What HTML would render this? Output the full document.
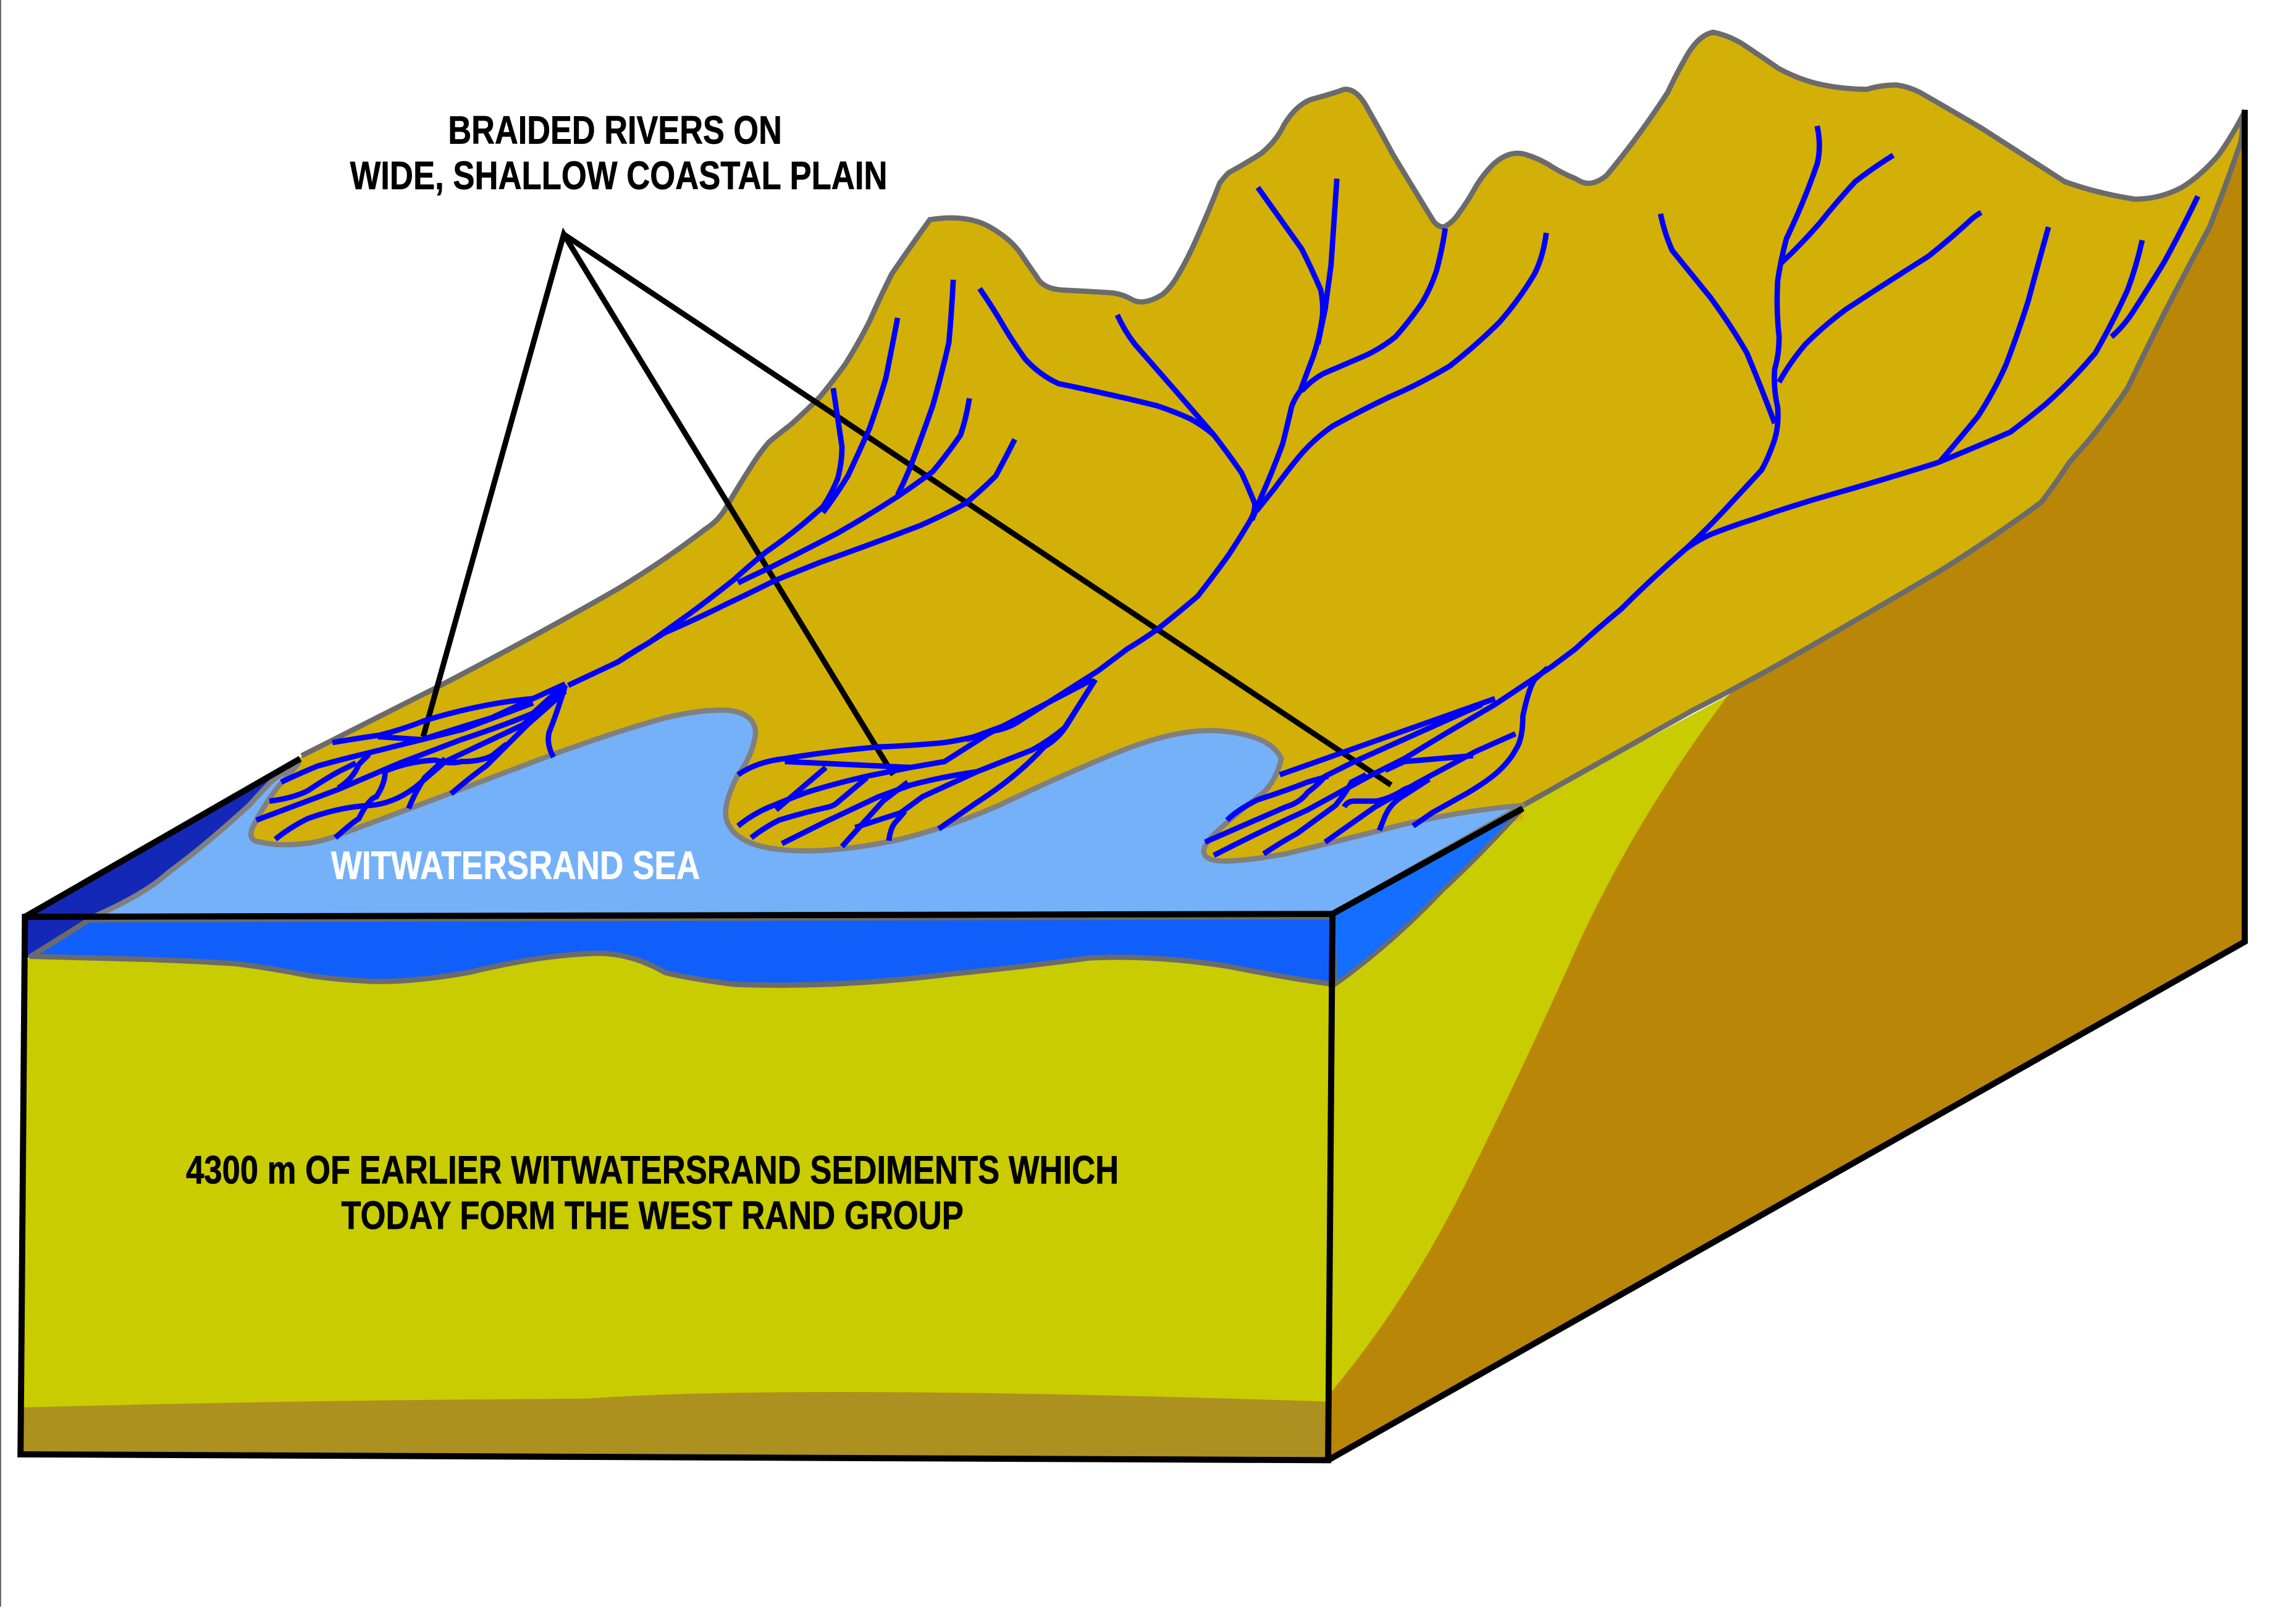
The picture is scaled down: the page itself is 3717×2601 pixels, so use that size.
<!DOCTYPE html>
<html><head><meta charset="utf-8"><title>Witwatersrand braided rivers</title>
<style>html,body{margin:0;padding:0;background:#fff}svg{display:block}text{font-family:"Liberation Sans",sans-serif;font-weight:bold;font-size:27px;stroke-width:.3}</style>
</head><body>
<svg width="3717" height="2601" viewBox="0 0 1568 1097.25" xmlns="http://www.w3.org/2000/svg">
<rect width="1568" height="1097.25" fill="#fff"/>
<path d="M.3,0V1097" stroke="#555" stroke-width=".8" fill="none"/>
<path d="M17,626L205,518L190,560L110,626L63,630L21,653L17,655Z" fill="#1428B8"/>
<path d="M905,600L1040,550L1180,475L1190,600L1100,800L908,960Z" fill="#C9CC00"/>
<path d="M1533,85L1533,643L907,997L907,953Q960,890 1000,810Q1040,730 1080,640Q1120,555 1180,475L1400,300L1500,150Z" fill="#BA8608"/>
<path d="M206,516L297,470Q370,432 422,402Q455,382 482,361Q490,356 495,348Q503,334 512,320Q518,310 525,302Q532,296 540,290Q550,281 560,271Q569,260 577,249Q586,235 594,219Q601,203 609,187Q622,168 635,150Q660,146 676,155Q690,163 697,173Q703,182 708,189Q712,197 725,198Q745,199 760,200Q767,201 773,204.5Q781,209 794,201Q800,196 805,187Q812,175 818,161Q826,143 833,125Q836,121 839,118Q850,112 861,105Q872,96 877,85Q885,72 895,68Q910,64 918,61Q927,60 935,76Q943,90 951,105Q960,120 968,133Q974,143 979,151Q982,155 986,155Q992,152 996,146Q1002,138 1007,129Q1012,120 1020,112Q1030,103 1040,105Q1048,107 1057,112Q1066,118 1076,122Q1082,126 1087,125Q1092,124 1097,120Q1107,108 1116,96Q1128,80 1139,63Q1145,50 1152,38Q1160,24 1170,22Q1180,24 1190,30Q1202,38 1215,47Q1230,55 1245,58Q1260,61 1275,61Q1285,58 1295,58Q1303,59 1311,63Q1332,75 1354,88Q1382,106 1410,124Q1432,132 1458,136Q1475,136 1490,128Q1503,120 1515,106Q1523,95 1531,80Q1532,90 1530,98Q1520,127 1509,155Q1493,185 1478,214Q1465,240 1453,265Q1441,283 1427,300Q1420,308 1413,316Q1404,330 1394,343Q1360,368 1323,391Q1277,418 1230,445Q1195,465 1156,485L1040,550L1040,560L820,592L135,592Z" fill="#D3B008"/>
<path d="M206,516L297,470Q370,432 422,402Q455,382 482,361Q490,356 495,348Q503,334 512,320Q518,310 525,302Q532,296 540,290Q550,281 560,271Q569,260 577,249Q586,235 594,219Q601,203 609,187Q622,168 635,150Q660,146 676,155Q690,163 697,173Q703,182 708,189Q712,197 725,198Q745,199 760,200Q767,201 773,204.5Q781,209 794,201Q800,196 805,187Q812,175 818,161Q826,143 833,125Q836,121 839,118Q850,112 861,105Q872,96 877,85Q885,72 895,68Q910,64 918,61Q927,60 935,76Q943,90 951,105Q960,120 968,133Q974,143 979,151Q982,155 986,155Q992,152 996,146Q1002,138 1007,129Q1012,120 1020,112Q1030,103 1040,105Q1048,107 1057,112Q1066,118 1076,122Q1082,126 1087,125Q1092,124 1097,120Q1107,108 1116,96Q1128,80 1139,63Q1145,50 1152,38Q1160,24 1170,22Q1180,24 1190,30Q1202,38 1215,47Q1230,55 1245,58Q1260,61 1275,61Q1285,58 1295,58Q1303,59 1311,63Q1332,75 1354,88Q1382,106 1410,124Q1432,132 1458,136Q1475,136 1490,128Q1503,120 1515,106Q1523,95 1531,80Q1532,90 1530,98Q1520,127 1509,155Q1493,185 1478,214Q1465,240 1453,265Q1441,283 1427,300Q1420,308 1413,316Q1404,330 1394,343Q1360,368 1323,391Q1277,418 1230,445Q1195,465 1156,485L1040,550" fill="none" stroke="#6B6B6B" stroke-width="3.6"/>
<path d="M66,625Q84,617 97,609Q107,603 116,595Q131,584 145,572Q158,561 170,550Q178,541 186,533Q194,527 204,521Q198,528 190,537Q180,550 173,564Q168,574 178,575Q190,578 208,576Q218,575 229,571L280,552L378,515Q425,498 455,490Q480,484 497,485Q516,487 516,501Q514,516 504,529Q492,552 497,562Q503,575 525,579Q560,585 615,573Q650,564 682,550Q730,527 765,513Q805,497 833,499Q868,502 875,518Q872,532 863,541Q835,563 826,573Q815,587 835,588Q850,588 878,583Q915,574 954,564Q1000,553 1040,550L910,624L66,626Z" fill="#74B1F8" stroke="#808080" stroke-width="3.6" stroke-linejoin="round"/>
<path d="M910,624L1040,552Q1010,585 985,608Q950,645 912,672Z" fill="#146EFF" stroke="#6B6B6B" stroke-width="3"/>
<path d="M17,655L100,640L910,640L907,997L14,993Z" fill="#C9CC00"/>
<path d="M15,961Q200,956 400,955Q540,945 907,957V997L14,993Z" fill="#AD9120"/>
<path d="M61,628L910,626L910,672Q880,668 840,660Q790,652 745,654Q700,660 650,665Q570,675 500,672Q470,668 454,664Q430,650 405,651Q370,652 320,664Q280,671 253,670Q230,669 210,666Q185,661 161,658Q130,656 97,655Q60,654 21,653Z" fill="#115FFA" stroke="#6B6B6B" stroke-width="3.6" stroke-linejoin="round"/>
<g fill="none" stroke="#000" stroke-linejoin="miter">
<path d="M17,626L910,624L907,997L14,993Z" stroke-width="4.2"/>
<path d="M17,626L205,518M910,624L1040,552M907,997L1533,643V75" stroke-width="4.2"/>
<path d="M289,503L385,160L610,529M385,160L950,536" stroke-width="3.8"/>
</g>
<g fill="none" stroke="#0000FF" stroke-width="3.7">
<!-- Right system -->
<path d="M1134,146Q1137,160 1142,171Q1155,187 1168,203Q1182,222 1193,241Q1203,265 1212,289"/>
<path d="M1241,86Q1244,100 1241,112Q1232,138 1220,163Q1216,178 1214,192Q1213,212 1215,230Q1215,242 1212,252Q1211,265 1214,278Q1215,290 1212,300Q1208,312 1203,321Q1190,335 1178,348Q1165,362 1151,375Q1128,395 1107,416Q1090,430 1076,443L1060,455L1021,481"/>
<path d="M1293,106Q1280,114 1267,124Q1255,137 1243,152Q1230,167 1216,180"/>
<path d="M1353,145Q1348,148 1345,151Q1332,163 1317,175Q1290,192 1261,211Q1246,222 1233,235Q1222,248 1215,261"/>
<path d="M1399,155Q1392,180 1385,206Q1378,228 1370,249Q1362,267 1351,284Q1338,300 1325,315"/>
<path d="M1463,164Q1459,182 1453,198Q1443,220 1431,241Q1415,260 1397,276Q1385,286 1373,295Q1350,305 1323,316Q1285,328 1246,339Q1222,346 1199,354Q1183,359 1168,365Q1159,369 1151,375"/>
<path d="M1501,134Q1490,157 1478,179Q1467,197 1456,214Q1450,223 1442,230"/>
<!-- Middle system -->
<path d="M859,128Q874,149 889,170Q896,184 902,198Q904,208 903,217Q901,231 897,243Q892,256 888,267Q884,272 882,278Q879,291 876,303Q869,322 861,340L855,355"/>
<path d="M913,122Q911,150 909,181L905,211L900,235"/>
<path d="M987,156Q985,170 981,185Q977,197 971,207Q962,220 953,230Q943,238 932,243Q918,249 904,255Q895,260 889,267"/>
<path d="M1056,159Q1054,175 1048,187Q1038,204 1024,220Q1008,236 990,250Q970,262 949,271Q930,280 910,291Q897,300 887,312Q878,323 870,334L858,349"/>
<path d="M763,215Q768,226 775,235Q789,251 803,267Q816,282 829,297Q839,310 848,323Q853,334 857,344Q857,350 854,355Q847,367 839,379Q829,393 818,407Q804,419 790,430Q780,437 770,443L750,458L698,491L660,505"/>
<path d="M669,197Q676,207 682,217Q690,231 700,245Q710,256 723,262Q733,264 742,266Q766,271 790,277Q802,281 813,286Q822,291 829,297"/>
<!-- Left system -->
<path d="M569,265Q572,285 575,305Q575,316 572,327Q568,337 562,346Q552,355 542,363Q533,370 523,377Q512,386 501,396Q486,408 471,419Q457,429 443,439Q432,445 422,452L388,468"/>
<path d="M613,217Q609,238 605,258Q600,275 594,292Q587,308 579,325Q571,338 562,350"/>
<path d="M651,191Q650,212 648,234Q643,256 637,277Q630,297 622,318Q618,328 613,338"/>
<path d="M662,272Q660,285 656,297Q647,310 637,322Q625,331 613,339Q593,352 572,364Q549,376 525,388Q514,393 504,398"/>
<path d="M693,300Q687,312 680,325Q670,335 659,344Q644,352 628,359Q594,372 560,384Q545,390 530,396Q512,405 495,413Q475,423 454,432L422,452"/>
<!-- Delta 1 -->
<path d="M227,507Q245,504 259,502Q275,498 290,492Q330,480 364,477L386,467"/>
<path d="M258,503L288,505Q310,498 336,490L364,477"/>
<path d="M192,534Q205,528 217,523Q235,518 252,514L288,505L316,498L364,480"/>
<path d="M184,547Q200,545 210,540Q222,532 231,527L243,521"/>
<path d="M231,538Q241,532 245,522L252,515"/>
<path d="M175,560L231,539L273,521L315,505Q345,495 364,487L386,467"/>
<path d="M188,573Q198,565 210,559Q232,551 252,550Q268,549 283,538Q295,528 304,520L357,495L386,470"/>
<path d="M229,572Q240,562 245,559Q252,545 257,544Q263,535 263,527"/>
<path d="M262,527Q278,520 297,519Q308,522 315,520Q328,520 336,516L346,508"/>
<path d="M279,552Q284,540 290,531L304,518"/>
<path d="M308,542Q322,530 332,523L360,495L386,472"/>
<path d="M378,517Q373,508 375,500Q381,485 386,468"/>
<!-- Delta 2 -->
<path d="M504,529Q517,520 536,518Q565,513 600,510Q625,509 645,507Q665,504 679,499Q690,497 698,491"/>
<path d="M536,520L622,524L645,520L675,501L746,464"/>
<path d="M504,564Q515,555 528,550Q540,545 551,541Q570,535 592,530L622,524"/>
<path d="M564,524L530,553"/>
<path d="M513,572Q522,565 532,560Q548,555 566,551Q570,550 573,547L592,531"/>
<path d="M534,576L564,561L600,544L622,536Q645,530 667,527Q690,518 705,512Q716,506 727,497L748,464"/>
<path d="M575,578L603,547L620,534"/>
<path d="M584,565L615,555L630,544L667,527"/>
<path d="M607,574Q608,566 611,562L618,554"/>
<path d="M641,566L667,548Q695,530 713,510Q722,505 728,496L748,464"/>
<!-- Delta 3 -->
<path d="M874,529L1021,477"/>
<path d="M838,560Q845,553 859,546Q878,540 893,534L907,530"/>
<path d="M823,575L878,551Q888,548 893,541Q900,536 905,530L925,520L1012,481"/>
<path d="M829,584Q860,568 893,553L935,530L959,518L987,501L1021,481"/>
<path d="M863,583Q875,575 886,569L912,550Q920,540 923,534L933,529"/>
<path d="M905,575L939,551L969,534L1008,513L1035,501"/>
<path d="M918,551Q920,547 925,547L940,547Q950,545 959,539L976,532"/>
<path d="M942,567Q944,562 946,557Q950,548 959,543L976,532"/>
<path d="M965,564L978,555L1003,541Q1018,532 1025,525Q1032,518 1035,512Q1040,505 1040,489Q1044,470 1048,464L1057,456"/>
<path d="M946,526L959,520L1006,516"/>
</g>
<text x="306" y="98" textLength="228" lengthAdjust="spacingAndGlyphs" stroke="#000">BRAIDED RIVERS ON</text>
<text x="239" y="129" textLength="367" lengthAdjust="spacingAndGlyphs" stroke="#000">WIDE, SHALLOW COASTAL PLAIN</text>
<text x="226" y="600" textLength="252" lengthAdjust="spacingAndGlyphs" fill="#fff" stroke="#fff">WITWATERSRAND SEA</text>
<text x="127" y="808" textLength="637" lengthAdjust="spacingAndGlyphs" stroke="#000">4300 m OF EARLIER WITWATERSRAND SEDIMENTS WHICH</text>
<text x="233" y="839" textLength="425" lengthAdjust="spacingAndGlyphs" stroke="#000">TODAY FORM THE WEST RAND GROUP</text>
</svg>
</body></html>
